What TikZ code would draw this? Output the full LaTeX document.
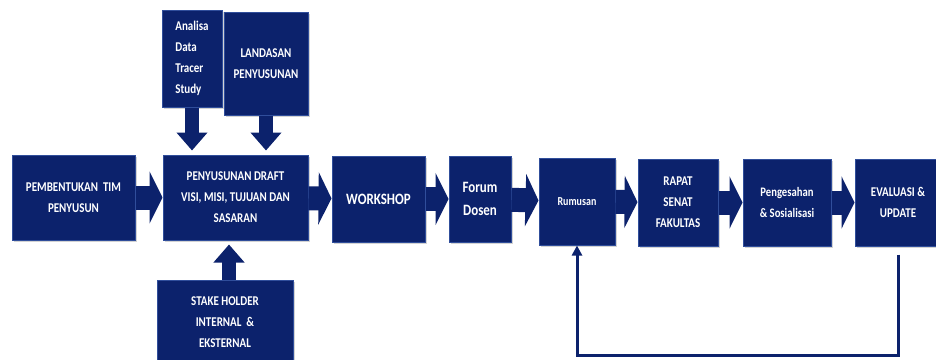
\documentclass[tikz,border=0pt]{standalone}
\usepackage{fontspec}
\setmainfont{Carlito}[FakeStretch=0.82]
\usetikzlibrary{arrows.meta, shadows}

\definecolor{navy}{RGB}{12,34,108}
\definecolor{navyedge}{RGB}{48,78,155}

\tikzset{
  box/.style={draw=navyedge, line width=1pt, fill=navy, text=white,
    font=\bfseries\fontsize{13.4}{21}\selectfont, align=center, inner sep=2pt,
    drop shadow={opacity=0.35, shadow xshift=1.5pt, shadow yshift=-1.5pt}},
  blk/.style={draw=navy, line width=24pt, -{Triangle[length=13pt, width=52pt]}},
  blkv/.style={draw=navy, line width=14pt, -{Triangle[length=18pt, width=30pt]}, shorten >=4pt},
  fb/.style={draw=navy, line width=3pt, -{Triangle[length=10pt, width=10pt]}}
}

\begin{document}
\begin{tikzpicture}[x=1pt, y=-1pt]
\useasboundingbox (0,0) rectangle (936,359);

% main row
\node[box, minimum width=123, minimum height=85] (pt) at (73.5,197.5) {PEMBENTUKAN~~TIM\\PENYUSUN};
\node[box, minimum width=145, minimum height=85] (ps) at (235.5,197.5) {PENYUSUNAN~DRAFT\\VISI, MISI, TUJUAN DAN\\SASARAN};
\node[box, minimum width=93, minimum height=86, font=\bfseries\fontsize{15.8}{21}\selectfont] (ws) at (378.5,199) {WORKSHOP};
\node[box, minimum width=62, minimum height=86, font=\bfseries\fontsize{15.8}{23}\selectfont] (fd) at (480,199) {Forum\\Dosen};
\node[box, minimum width=76, minimum height=87, font=\bfseries\fontsize{12.2}{21}\selectfont] (ru) at (577,201.5) {Rumusan};
\node[box, minimum width=80, minimum height=87] (rs) at (678,202.5) {RAPAT\\SENAT\\FAKULTAS};
\node[box, minimum width=88, minimum height=87, font=\bfseries\fontsize{13}{21}\selectfont] (pg) at (787,202.5) {Pengesahan\\\& Sosialisasi};
\node[box, minimum width=86, minimum height=87] (ev) at (898,202.5) {EVALUASI \&\\UPDATE};

% inputs
\node[box, minimum width=60, minimum height=97, align=left] (ad) at (192,58.5) {Analisa\\Data\\Tracer\\Study};
\node[box, minimum width=84, minimum height=103] (la) at (266,63.5) {LANDASAN\\PENYUSUNAN};
\node[box, minimum width=136, minimum height=85] (sh) at (225,322.5) {STAKE HOLDER\\INTERNAL~~\&\\EKSTERNAL};

\coordinate (back) at (577,355);

\draw[blk] (pt) -- (ps);
\draw[blk] (ps) -- (ws);
\draw[blk] (ws) -- (fd);
\draw[blk] (fd) -- (ru);
\draw[blk] (ru) -- (rs);
\draw[blk] (rs) -- (pg);
\draw[blk] (pg) -- (ev);

\draw[blkv] (ad) -- (ad |- ps.north);
\draw[blkv] (la) -- (la |- ps.north);
\draw[blkv] (sh.north -| 229,0) -- (229,0 |- ps.south);

% loop back from evaluation
\draw[fb] ([yshift=-8pt]ev.south) |- (back) -- (ru.south);
\end{tikzpicture}
\end{document}
